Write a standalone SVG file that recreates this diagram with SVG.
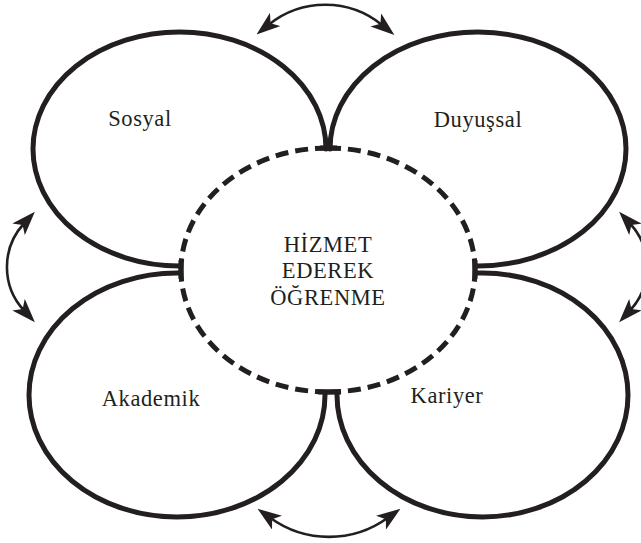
<svg xmlns="http://www.w3.org/2000/svg" width="641" height="543" viewBox="0 0 641 543">
<style>
.petal{fill:none;stroke:#231f20;stroke-width:5;stroke-linejoin:round}
.dash{fill:none;stroke:#231f20;stroke-width:5;stroke-dasharray:13 7}
.bar{stroke:#231f20;stroke-width:5;stroke-linecap:butt}
.arr{fill:none;stroke:#231f20;stroke-width:2.6}
.lbl{font-family:"Liberation Serif","Times New Roman",serif;font-size:22.5px;letter-spacing:0.6px;fill:#231f20;text-anchor:middle}
</style>
<defs>
<marker id="ah" viewBox="0 0 24 17" refX="8" refY="8.5" markerWidth="24" markerHeight="17" markerUnits="userSpaceOnUse" orient="auto-start-reverse">
<path d="M0,0 L24,8.5 L0,17 L6,8.5 Z" fill="#231f20"/>
</marker>
</defs>
<g id="center">
<path class="dash" d="M328 148 A147 122 0 0 0 181 270"/>
<path class="dash" d="M328 148 A147 122 0 0 1 475 270"/>
<path class="dash" d="M328 392 A147 122 0 0 1 181 270"/>
<path class="dash" d="M328 392 A147 122 0 0 0 475 270"/>
<line class="bar" x1="320" y1="148" x2="337" y2="148"/>
<line class="bar" x1="181" y1="260" x2="181" y2="279"/>
<line class="bar" x1="475" y1="260" x2="475" y2="279"/>
<line class="bar" x1="318" y1="392" x2="341" y2="392"/>
<text class="lbl" x="328" y="252">HİZMET</text>
<text class="lbl" x="328" y="278">EDEREK</text>
<text class="lbl" x="328" y="305">ÖĞRENME</text>
</g>
<g id="sosyal">
<path class="petal" d="M326 148 L326 149 A146.5 117 0 1 0 179.5 266 L181 266"/>
<text class="lbl" x="140" y="126">Sosyal</text>
</g>
<g id="duyussal">
<path class="petal" d="M330 148 L330 149 A148 117 0 1 1 478 266 L475 266"/>
<text class="lbl" x="478" y="127">Duyuşsal</text>
</g>
<g id="akademik">
<path class="petal" d="M181 273 L177 273 A148 122 0 1 0 325 395 L325 392"/>
<text class="lbl" x="151" y="406">Akademik</text>
</g>
<g id="kariyer">
<path class="petal" d="M475 273 L482.5 273 A145.5 122 0 1 1 337 395 L337 392"/>
<text class="lbl" x="447" y="403">Kariyer</text>
</g>
<g id="connectors">
<path class="arr" d="M269 24.5 A90 90 0 0 1 382 25" marker-start="url(#ah)" marker-end="url(#ah)"/>
<path class="arr" d="M270.5 518 A100 100 0 0 0 387.5 518" marker-start="url(#ah)" marker-end="url(#ah)"/>
<path class="arr" d="M24 223.5 A64 64 0 0 0 24 310.5" marker-start="url(#ah)" marker-end="url(#ah)"/>
<path class="arr" d="M630 223.5 A64 64 0 0 1 630 310.5" marker-start="url(#ah)" marker-end="url(#ah)"/>
</g>
</svg>
